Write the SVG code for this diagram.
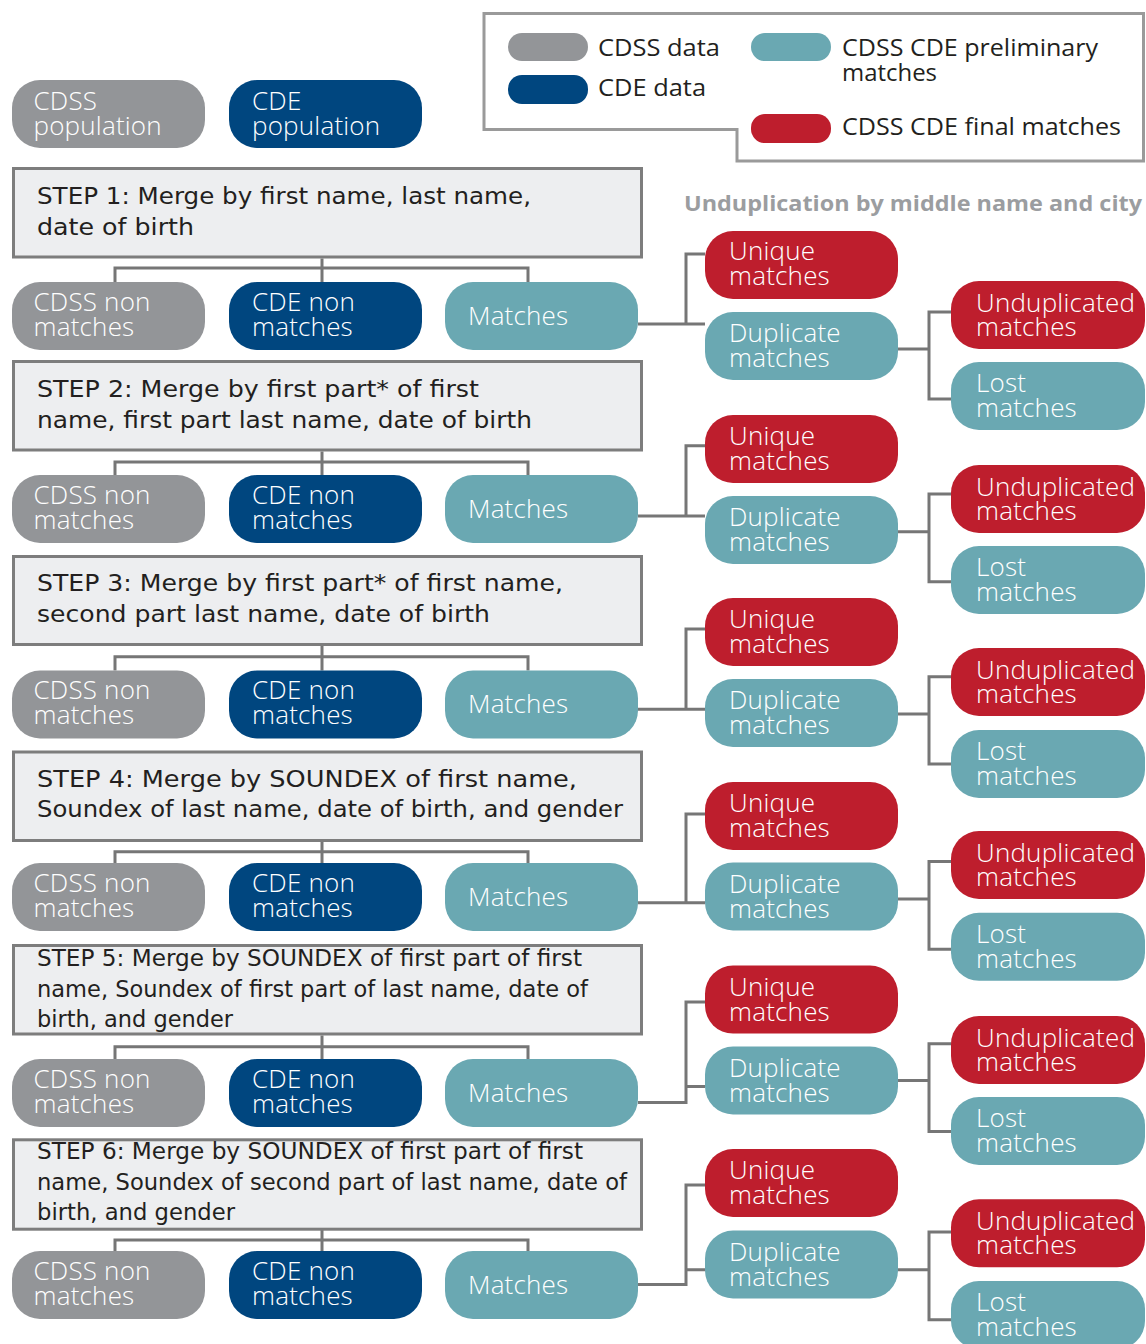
<svg xmlns="http://www.w3.org/2000/svg" width="1146" height="1344" viewBox="0 0 1146 1344">
<style>
.g{fill:#939598}.n{fill:#00467f}.t{fill:#6aa8b2}.r{fill:#be1e2d}
.pt{font-family:"Open Sans","Liberation Sans",sans-serif;font-weight:300;font-size:26px;letter-spacing:0.2px;fill:#ffffff}
.st{font-family:"DejaVu Sans","Liberation Sans",sans-serif;font-size:22.5px;fill:#231f20}
.lt{font-family:"Open Sans","Liberation Sans",sans-serif;font-size:23px;fill:#231f20}
.hd{font-family:"Open Sans","Liberation Sans",sans-serif;font-weight:700;font-size:21.5px;fill:#9b9da0}
.box{fill:#edeef0;stroke:#7d7d7d;stroke-width:3}
.ln{fill:none;stroke:#767676;stroke-width:3}
</style>
<rect width="1146" height="1344" fill="#ffffff"/>
<g id="legend">
<path d="M484 13.5H1143.5V161H737V129.5H484Z" fill="#ffffff" stroke="#9a9a9a" stroke-width="3"/>
<rect x="508" y="33" width="80" height="28" rx="14" class="g"/>
<rect x="508" y="75" width="80" height="29" rx="14" class="n"/>
<rect x="751" y="33" width="80" height="28" rx="14" class="t"/>
<rect x="751" y="114" width="80" height="29" rx="14" class="r"/>
<text x="598" y="55.5" class="lt" textLength="122" lengthAdjust="spacingAndGlyphs">CDSS data</text>
<text x="598" y="96" class="lt" textLength="108" lengthAdjust="spacingAndGlyphs">CDE data</text>
<text class="lt"><tspan x="842" y="55.5" textLength="256" lengthAdjust="spacingAndGlyphs">CDSS CDE preliminary</tspan><tspan x="842" y="81" textLength="95" lengthAdjust="spacingAndGlyphs">matches</tspan></text>
<text x="842" y="134.5" class="lt" textLength="279" lengthAdjust="spacingAndGlyphs">CDSS CDE final matches</text>
</g>
<text id="heading" x="684" y="211" class="hd" textLength="458" lengthAdjust="spacingAndGlyphs">Unduplication by middle name and city</text>
<g id="connectors" class="ln">
<path d="M322 258.5V282M115 282V268H528V282"/>
<path d="M322 451.5V475M115 475V462H528V475"/>
<path d="M322 646V670.5M115 670.5V656.7H528V670.5"/>
<path d="M322 842V863M115 863V851.7H528V863"/>
<path d="M322 1035.5V1059M115 1059V1046.7H528V1059"/>
<path d="M322 1230V1251M115 1251V1240H528V1251"/>
<path d="M638 324H705M686 324V254H705"/>
<path d="M638 516H705M686 516V445.7H705"/>
<path d="M638 709.3H705M686 709.3V629H705"/>
<path d="M638 902.8H705M686 902.8V814H705"/>
<path d="M638 1102.5H686V1002H705M686 1086.5H705"/>
<path d="M638 1284.5H686V1185H705M686 1269.8H705"/>
<path d="M898 349H929M951 312H929V399H951"/>
<path d="M898 531.7H929M951 494H929V581.7H951"/>
<path d="M898 714H929M951 676.7H929V764H951"/>
<path d="M898 899H929M951 861.5H929V949.3H951"/>
<path d="M898 1080.5H929M951 1043.8H929V1131.6H951"/>
<path d="M898 1269.8H929M951 1232H929V1319.8H951"/>
</g>
<g id="cdss-population"><rect x="12" y="80" width="193" height="68" rx="28" class="g"/><text class="pt"><tspan x="33.5" y="110">CDSS</tspan><tspan x="33.5" y="135">population</tspan></text></g>
<g id="cde-population"><rect x="229" y="80" width="193" height="68" rx="28" class="n"/><text class="pt"><tspan x="252" y="110">CDE</tspan><tspan x="252" y="135">population</tspan></text></g>

<g id="step1"><rect x="13.5" y="168.5" width="628" height="88.5" class="box"/>
<text class="st" x="37" y="204" textLength="494" lengthAdjust="spacingAndGlyphs">STEP 1: Merge by first name, last name,</text>
<text class="st" x="37" y="235" textLength="157" lengthAdjust="spacingAndGlyphs">date of birth</text></g>
<g id="step2"><rect x="13.5" y="361.5" width="628" height="88.5" class="box"/>
<text class="st" x="37" y="397" textLength="442" lengthAdjust="spacingAndGlyphs">STEP 2: Merge by first part* of first</text>
<text class="st" x="37" y="428" textLength="495" lengthAdjust="spacingAndGlyphs">name, first part last name, date of birth</text></g>
<g id="step3"><rect x="13.5" y="556.5" width="628" height="88" class="box"/>
<text class="st" x="37" y="590.7" textLength="526" lengthAdjust="spacingAndGlyphs">STEP 3: Merge by first part* of first name,</text>
<text class="st" x="37" y="621.7" textLength="453" lengthAdjust="spacingAndGlyphs">second part last name, date of birth</text></g>
<g id="step4"><rect x="13.5" y="752" width="628" height="88.5" class="box"/>
<text class="st" x="37" y="786.7" textLength="540" lengthAdjust="spacingAndGlyphs">STEP 4: Merge by SOUNDEX of first name,</text>
<text class="st" x="37" y="817" textLength="586" lengthAdjust="spacingAndGlyphs">Soundex of last name, date of birth, and gender</text></g>
<g id="step5"><rect x="13.5" y="945.5" width="628" height="88.5" class="box"/>
<text class="st" x="37" y="966" textLength="545" lengthAdjust="spacingAndGlyphs">STEP 5: Merge by SOUNDEX of first part of first</text>
<text class="st" x="37" y="996.7" textLength="551" lengthAdjust="spacingAndGlyphs">name, Soundex of first part of last name, date of</text>
<text class="st" x="37" y="1026.7" textLength="196" lengthAdjust="spacingAndGlyphs">birth, and gender</text></g>
<g id="step6"><rect x="13.5" y="1139.8" width="628" height="89.4" class="box"/>
<text class="st" x="37" y="1159.3" textLength="546" lengthAdjust="spacingAndGlyphs">STEP 6: Merge by SOUNDEX of first part of first</text>
<text class="st" x="37" y="1190" textLength="590" lengthAdjust="spacingAndGlyphs">name, Soundex of second part of last name, date of</text>
<text class="st" x="37" y="1220" textLength="198" lengthAdjust="spacingAndGlyphs">birth, and gender</text></g>

<g id="cdss-non-1"><rect x="12" y="282" width="193" height="68" rx="28" class="g"/><text class="pt"><tspan x="33.5" y="310.5">CDSS non</tspan><tspan x="33.5" y="335.5">matches</tspan></text></g>
<g id="cde-non-1"><rect x="229" y="282" width="193" height="68" rx="28" class="n"/><text class="pt"><tspan x="252" y="310.5">CDE non</tspan><tspan x="252" y="335.5">matches</tspan></text></g>
<g id="matches-1"><rect x="445" y="282" width="193" height="68" rx="28" class="t"/><text class="pt" x="468" y="324.5">Matches</text></g>
<g id="cdss-non-2"><rect x="12" y="475" width="193" height="68" rx="28" class="g"/><text class="pt"><tspan x="33.5" y="503.5">CDSS non</tspan><tspan x="33.5" y="528.5">matches</tspan></text></g>
<g id="cde-non-2"><rect x="229" y="475" width="193" height="68" rx="28" class="n"/><text class="pt"><tspan x="252" y="503.5">CDE non</tspan><tspan x="252" y="528.5">matches</tspan></text></g>
<g id="matches-2"><rect x="445" y="475" width="193" height="68" rx="28" class="t"/><text class="pt" x="468" y="517.5">Matches</text></g>
<g id="cdss-non-3"><rect x="12" y="670.5" width="193" height="68" rx="28" class="g"/><text class="pt"><tspan x="33.5" y="699">CDSS non</tspan><tspan x="33.5" y="724">matches</tspan></text></g>
<g id="cde-non-3"><rect x="229" y="670.5" width="193" height="68" rx="28" class="n"/><text class="pt"><tspan x="252" y="699">CDE non</tspan><tspan x="252" y="724">matches</tspan></text></g>
<g id="matches-3"><rect x="445" y="670.5" width="193" height="68" rx="28" class="t"/><text class="pt" x="468" y="713">Matches</text></g>
<g id="cdss-non-4"><rect x="12" y="863" width="193" height="68" rx="28" class="g"/><text class="pt"><tspan x="33.5" y="891.5">CDSS non</tspan><tspan x="33.5" y="916.5">matches</tspan></text></g>
<g id="cde-non-4"><rect x="229" y="863" width="193" height="68" rx="28" class="n"/><text class="pt"><tspan x="252" y="891.5">CDE non</tspan><tspan x="252" y="916.5">matches</tspan></text></g>
<g id="matches-4"><rect x="445" y="863" width="193" height="68" rx="28" class="t"/><text class="pt" x="468" y="905.5">Matches</text></g>
<g id="cdss-non-5"><rect x="12" y="1059" width="193" height="68" rx="28" class="g"/><text class="pt"><tspan x="33.5" y="1087.5">CDSS non</tspan><tspan x="33.5" y="1112.5">matches</tspan></text></g>
<g id="cde-non-5"><rect x="229" y="1059" width="193" height="68" rx="28" class="n"/><text class="pt"><tspan x="252" y="1087.5">CDE non</tspan><tspan x="252" y="1112.5">matches</tspan></text></g>
<g id="matches-5"><rect x="445" y="1059" width="193" height="68" rx="28" class="t"/><text class="pt" x="468" y="1101.5">Matches</text></g>
<g id="cdss-non-6"><rect x="12" y="1251" width="193" height="68" rx="28" class="g"/><text class="pt"><tspan x="33.5" y="1279.5">CDSS non</tspan><tspan x="33.5" y="1304.5">matches</tspan></text></g>
<g id="cde-non-6"><rect x="229" y="1251" width="193" height="68" rx="28" class="n"/><text class="pt"><tspan x="252" y="1279.5">CDE non</tspan><tspan x="252" y="1304.5">matches</tspan></text></g>
<g id="matches-6"><rect x="445" y="1251" width="193" height="68" rx="28" class="t"/><text class="pt" x="468" y="1293.5">Matches</text></g>

<g id="unique-1"><rect x="705" y="231" width="193" height="68" rx="28" class="r"/><text class="pt"><tspan x="729" y="260">Unique</tspan><tspan x="729" y="285">matches</tspan></text></g>
<g id="duplicate-1"><rect x="705" y="312" width="193" height="68" rx="28" class="t"/><text class="pt"><tspan x="729" y="342">Duplicate</tspan><tspan x="729" y="367">matches</tspan></text></g>
<g id="unduplicated-1"><rect x="951" y="281" width="194" height="68" rx="28" class="r"/><text class="pt"><tspan x="976" y="311.5">Unduplicated</tspan><tspan x="976" y="336">matches</tspan></text></g>
<g id="lost-1"><rect x="951" y="362" width="194" height="68" rx="28" class="t"/><text class="pt"><tspan x="976" y="392">Lost</tspan><tspan x="976" y="417">matches</tspan></text></g>

<g id="unique-2"><rect x="705" y="415" width="193" height="68" rx="28" class="r"/><text class="pt"><tspan x="729" y="445">Unique</tspan><tspan x="729" y="470">matches</tspan></text></g>
<g id="duplicate-2"><rect x="705" y="496" width="193" height="68" rx="28" class="t"/><text class="pt"><tspan x="729" y="526">Duplicate</tspan><tspan x="729" y="551">matches</tspan></text></g>
<g id="unduplicated-2"><rect x="951" y="465" width="194" height="68" rx="28" class="r"/><text class="pt"><tspan x="976" y="495.5">Unduplicated</tspan><tspan x="976" y="520">matches</tspan></text></g>
<g id="lost-2"><rect x="951" y="546" width="194" height="68" rx="28" class="t"/><text class="pt"><tspan x="976" y="576">Lost</tspan><tspan x="976" y="601">matches</tspan></text></g>

<g id="unique-3"><rect x="705" y="598" width="193" height="68" rx="28" class="r"/><text class="pt"><tspan x="729" y="628">Unique</tspan><tspan x="729" y="653">matches</tspan></text></g>
<g id="duplicate-3"><rect x="705" y="679" width="193" height="68" rx="28" class="t"/><text class="pt"><tspan x="729" y="709">Duplicate</tspan><tspan x="729" y="734">matches</tspan></text></g>
<g id="unduplicated-3"><rect x="951" y="648" width="194" height="68" rx="28" class="r"/><text class="pt"><tspan x="976" y="678.5">Unduplicated</tspan><tspan x="976" y="703">matches</tspan></text></g>
<g id="lost-3"><rect x="951" y="730" width="194" height="68" rx="28" class="t"/><text class="pt"><tspan x="976" y="760">Lost</tspan><tspan x="976" y="785">matches</tspan></text></g>

<g id="unique-4"><rect x="705" y="782" width="193" height="68" rx="28" class="r"/><text class="pt"><tspan x="729" y="812">Unique</tspan><tspan x="729" y="837">matches</tspan></text></g>
<g id="duplicate-4"><rect x="705" y="862.5" width="193" height="68" rx="28" class="t"/><text class="pt"><tspan x="729" y="892.5">Duplicate</tspan><tspan x="729" y="917.5">matches</tspan></text></g>
<g id="unduplicated-4"><rect x="951" y="831" width="194" height="68" rx="28" class="r"/><text class="pt"><tspan x="976" y="861.5">Unduplicated</tspan><tspan x="976" y="886">matches</tspan></text></g>
<g id="lost-4"><rect x="951" y="912.8" width="194" height="68" rx="28" class="t"/><text class="pt"><tspan x="976" y="942.8">Lost</tspan><tspan x="976" y="967.8">matches</tspan></text></g>

<g id="unique-5"><rect x="705" y="965.6" width="193" height="68" rx="28" class="r"/><text class="pt"><tspan x="729" y="995.6">Unique</tspan><tspan x="729" y="1020.6">matches</tspan></text></g>
<g id="duplicate-5"><rect x="705" y="1046.5" width="193" height="68" rx="28" class="t"/><text class="pt"><tspan x="729" y="1076.5">Duplicate</tspan><tspan x="729" y="1101.5">matches</tspan></text></g>
<g id="unduplicated-5"><rect x="951" y="1016" width="194" height="68" rx="28" class="r"/><text class="pt"><tspan x="976" y="1046.5">Unduplicated</tspan><tspan x="976" y="1071">matches</tspan></text></g>
<g id="lost-5"><rect x="951" y="1097" width="194" height="68" rx="28" class="t"/><text class="pt"><tspan x="976" y="1127">Lost</tspan><tspan x="976" y="1152">matches</tspan></text></g>

<g id="unique-6"><rect x="705" y="1149" width="193" height="68" rx="28" class="r"/><text class="pt"><tspan x="729" y="1179">Unique</tspan><tspan x="729" y="1204">matches</tspan></text></g>
<g id="duplicate-6"><rect x="705" y="1230.5" width="193" height="68" rx="28" class="t"/><text class="pt"><tspan x="729" y="1260.5">Duplicate</tspan><tspan x="729" y="1285.5">matches</tspan></text></g>
<g id="unduplicated-6"><rect x="951" y="1199.3" width="194" height="68" rx="28" class="r"/><text class="pt"><tspan x="976" y="1229.8">Unduplicated</tspan><tspan x="976" y="1254.3">matches</tspan></text></g>
<g id="lost-6"><rect x="951" y="1281" width="194" height="68" rx="28" class="t"/><text class="pt"><tspan x="976" y="1311">Lost</tspan><tspan x="976" y="1336">matches</tspan></text></g>
</svg>
